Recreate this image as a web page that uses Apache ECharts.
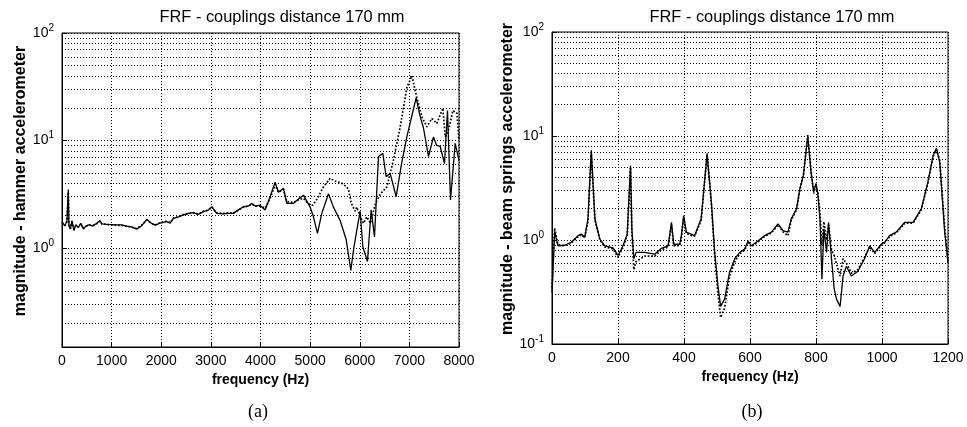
<!DOCTYPE html>
<html>
<head>
<meta charset="utf-8">
<title>FRF - couplings distance 170 mm</title>
<script src="https://cdn.jsdelivr.net/npm/echarts@6.0.0/dist/echarts.min.js"></script>
<style>
  html, body { margin: 0; padding: 0; background: #fff; }
  #chart { width: 967px; height: 427px; }
</style>
</head>
<body>
<div id="chart"></div>
<script>
// (a) hammer accelerometer, 0 - 8000 Hz
const hammerFreqSolid = [0, 60, 100, 127, 140, 170, 200, 240, 280, 330, 380, 430, 480, 550, 620, 700, 766, 800, 900, 1000,
  1100, 1200, 1300, 1400, 1505, 1600, 1707, 1800, 1875, 1976, 2110, 2180, 2245, 2350, 2446, 2550, 2647, 2750, 2849, 2950,
  3017, 3118, 3250, 3350, 3454, 3550, 3655, 3750, 3824, 3900, 3992, 4093, 4194, 4294, 4361, 4462, 4530, 4664, 4760, 4866,
  5000, 5067, 5148, 5235, 5370, 5470, 5605, 5726, 5820, 5880, 5941, 6008, 6062, 6155, 6230, 6297, 6378, 6465, 6532, 6613,
  6734, 6840, 6949, 7050, 7137, 7200, 7285, 7385, 7486, 7550, 7621, 7708, 7768, 7829, 7923, 8000];
const hammerMagSolid = [1.75, 1.6, 1.8, 3.5, 1.6, 1.5, 1.8, 1.45, 1.65, 1.55, 1.7, 1.5, 1.6, 1.65, 1.6, 1.7, 1.8, 1.68, 1.66, 1.65,
  1.64, 1.64, 1.6, 1.57, 1.5, 1.6, 1.85, 1.7, 1.63, 1.7, 1.76, 1.7, 1.89, 1.95, 2.03, 2.1, 2.13, 2.05, 2.18, 2.25,
  2.42, 2.1, 2.08, 2.1, 2.1, 2.25, 2.42, 2.45, 2.6, 2.45, 2.5, 2.26, 3.0, 4.1, 3.3, 3.6, 2.6, 2.6, 2.85, 3.1,
  2.4, 1.95, 1.37, 2.1, 3.2, 2.4, 1.8, 1.2, 0.62, 1.0, 1.47, 2.2, 1.03, 0.75, 2.26, 1.27, 7.1, 7.6, 4.6, 4.95,
  3.0, 6.0, 10.8, 17, 25, 18, 13, 7.1, 10.8, 9, 8.8, 6.1, 19, 2.8, 9.4, 6.5];

const hammerFreqDotted = [0, 60, 100, 127, 140, 170, 200, 240, 280, 330, 380, 430, 480, 550, 620, 700, 766, 800, 900, 1000,
  1100, 1200, 1300, 1400, 1505, 1600, 1707, 1800, 1875, 1976, 2110, 2180, 2245, 2350, 2446, 2550, 2647, 2750, 2849, 2950,
  3017, 3118, 3250, 3350, 3454, 3550, 3655, 3750, 3824, 3900, 3992, 4093, 4194, 4294, 4361, 4462, 4530, 4664, 4760, 4866,
  4950, 5050, 5150, 5268, 5403, 5500, 5638, 5739, 5773, 5830, 5907, 5941, 6000, 6075, 6142, 6216, 6317, 6418, 6546, 6680,
  6815, 6949, 7050, 7151, 7252, 7352, 7453, 7554, 7675, 7722, 7800, 7876, 7957, 8000];
const hammerMagDotted = [1.72, 1.62, 1.75, 3.3, 1.62, 1.52, 1.75, 1.5, 1.62, 1.57, 1.68, 1.52, 1.6, 1.63, 1.62, 1.68, 1.78, 1.68, 1.66, 1.64,
  1.63, 1.62, 1.6, 1.56, 1.52, 1.62, 1.82, 1.7, 1.64, 1.72, 1.78, 1.72, 1.9, 1.95, 2.05, 2.1, 2.12, 2.07, 2.2, 2.25,
  2.4, 2.12, 2.1, 2.12, 2.12, 2.25, 2.4, 2.45, 2.55, 2.45, 2.45, 2.35, 2.9, 3.9, 3.3, 3.5, 2.7, 2.65, 2.8, 2.9,
  2.6, 2.5, 2.9, 3.7, 4.45, 4.2, 4.0, 3.7, 3.5, 2.6, 2.2, 2.4, 2.0, 1.7, 1.95, 1.7, 2.6, 3.2, 3.7, 6.6,
  13.4, 31, 40, 25, 16.6, 13.4, 16, 14.4, 20, 10.8, 13, 19, 18, 10];

// (b) beam springs accelerometer, 0 - 1200 Hz
const beamFreqSolid = [0, 8, 18, 38, 58, 79, 89, 99, 109, 119, 130, 145, 160, 185, 200, 215, 228, 238, 242, 248,
  255, 281, 311, 331, 352, 362, 369, 387, 392, 399, 407, 432, 452, 470, 483, 493, 503, 511, 523, 538,
  554, 569, 584, 594, 604, 624, 644, 665, 685, 700, 715, 725, 741, 751, 762, 775, 785, 793, 800, 806,
  812, 818, 824, 832, 838, 847, 855, 862, 873, 882, 892, 907, 927, 947, 963, 978, 998, 1008, 1023, 1043,
  1069, 1094, 1119, 1139, 1155, 1165, 1175, 1190, 1200];
const beamMagSolid = [0.31, 1.2, 0.88, 0.89, 0.95, 1.1, 1.14, 1.06, 1.6, 7.3, 1.6, 1.02, 0.88, 0.84, 0.71, 0.88, 1.14, 5.2, 1.28, 0.66,
  0.76, 0.76, 0.73, 0.83, 0.88, 1.48, 0.91, 0.91, 1.1, 1.72, 1.19, 1.1, 1.6, 6.8, 2.3, 0.76, 0.36, 0.23, 0.27, 0.49,
  0.66, 0.76, 0.82, 0.98, 0.88, 0.98, 1.1, 1.19, 1.43, 1.23, 1.19, 1.6, 1.99, 3.1, 4.2, 10, 4.5, 2.9, 3.5, 2.7,
  1.6, 0.42, 1.28, 0.76, 1.48, 0.66, 0.34, 0.27, 0.23, 0.45, 0.56, 0.45, 0.5, 0.66, 0.88, 0.76, 0.91, 0.95, 1.1, 1.19,
  1.48, 1.48, 1.99, 3.6, 6.5, 7.6, 5.6, 1.19, 0.6];

const beamFreqDotted = [0, 8, 18, 38, 58, 79, 89, 99, 109, 119, 130, 145, 160, 185, 200, 215, 228, 238, 242, 248,
  255, 281, 311, 331, 352, 362, 369, 387, 392, 399, 407, 432, 452, 470, 483, 493, 503, 511, 523, 538,
  554, 569, 584, 594, 604, 624, 644, 665, 685, 700, 715, 725, 741, 751, 762, 775, 785, 793, 800, 806,
  812, 818, 824, 832, 838, 847, 855, 867, 873, 882, 892, 907, 927, 947, 963, 978, 998, 1008, 1023, 1043,
  1069, 1094, 1119, 1139, 1155, 1165, 1175, 1190, 1200];
const beamMagDotted = [0.35, 1.3, 0.9, 0.88, 0.93, 1.08, 1.12, 1.05, 1.5, 7.0, 1.55, 1.0, 0.86, 0.82, 0.68, 0.85, 1.1, 5.0, 1.2, 0.52,
  0.62, 0.7, 0.7, 0.8, 0.86, 1.4, 0.88, 0.88, 1.05, 1.65, 1.15, 1.08, 1.55, 6.6, 2.2, 0.7, 0.3, 0.18, 0.22, 0.45,
  0.62, 0.74, 0.8, 0.95, 0.86, 0.96, 1.08, 1.17, 1.4, 1.2, 1.1, 1.55, 1.95, 3.0, 4.3, 10.2, 4.6, 2.8, 3.4, 2.8,
  1.8, 0.9, 1.5, 1.0, 1.4, 0.8, 0.71, 0.52, 0.45, 0.66, 0.6, 0.48, 0.52, 0.68, 0.86, 0.74, 0.9, 0.94, 1.08, 1.17,
  1.45, 1.45, 1.95, 3.5, 6.4, 7.4, 5.8, 1.3, 0.65];

// minor log grid lines (2..9 of every decade)
const minorGrid = [0.2, 0.3, 0.4, 0.5, 0.6, 0.7, 0.8, 0.9, 2, 3, 4, 5, 6, 7, 8, 9, 20, 30, 40, 50, 60, 70, 80, 90];

const titleText = 'FRF - couplings distance 170 mm';
const xName = 'frequency (Hz)';
const yNameA = 'magnitude - hammer accelerometer';
const yNameB = 'magnitude - beam springs accelerometer';

const FONT = '"Liberation Sans", Arial, sans-serif';
const SERIF = '"Liberation Serif", "DejaVu Serif", serif';
const dots = [1, 2];

function pairs(xs, ys) {
  return xs.map((x, i) => [x, ys[i]]);
}

function decadeLabel(v) {
  const e = Math.round(Math.log10(v));
  if (Math.abs(Math.log10(v) - e) > 0.01) return '';
  return '{b|10}{s|' + e + '}';
}

function xAxisFor(gridIndex, max, interval) {
  return {
    type: 'value',
    gridIndex,
    min: 0,
    max,
    interval,
    name: xName,
    nameLocation: 'middle',
    nameGap: 22,
    nameTextStyle: { color: '#000', fontSize: 14, fontWeight: 'bold', fontFamily: FONT },
    axisLine: { show: true, lineStyle: { color: '#000', width: 1 } },
    axisTick: { show: true, inside: true, length: 5, lineStyle: { color: '#000' } },
    axisLabel: { color: '#000', fontSize: 14, fontFamily: FONT, margin: 7, formatter: v => String(v) },
    splitLine: { show: true, lineStyle: { color: '#000', type: dots, width: 1 } },
  };
}

function yAxisFor(gridIndex, min, name) {
  return {
    type: 'log',
    logBase: 10,
    gridIndex,
    min,
    max: 100,
    name,
    nameLocation: 'middle',
    nameRotate: 90,
    nameGap: 32,
    nameTextStyle: { color: '#000', fontSize: 16, fontWeight: 'bold', fontFamily: FONT, padding: [0, 0, 0, 18] },
    axisLine: { show: true, lineStyle: { color: '#000', width: 1 } },
    axisTick: { show: true, inside: true, length: 5, lineStyle: { color: '#000' } },
    axisLabel: {
      color: '#000',
      margin: 8,
      formatter: decadeLabel,
      rich: {
        b: { fontSize: 14, fontFamily: FONT, color: '#000' },
        s: { fontSize: 10, fontFamily: FONT, color: '#000', padding: [0, 0, 10, 0] },
      },
    },
    splitLine: { show: true, lineStyle: { color: '#000', type: dots, width: 1 } },
  };
}

function minorLines() {
  return {
    silent: true,
    symbol: ['none', 'none'],
    label: { show: false },
    lineStyle: { color: '#000', type: dots, width: 1 },
    emphasis: { disabled: true },
    data: minorGrid.map(v => ({ yAxis: v })),
  };
}

function lineSeries(idx, data, dotted, withGrid) {
  const s = {
    type: 'line',
    xAxisIndex: idx,
    yAxisIndex: idx,
    data,
    symbol: 'none',
    silent: true,
    lineStyle: dotted
      ? { color: '#000', width: 1.7, type: [1.7, 1.8] }
      : { color: '#000', width: 1.3 },
  };
  if (withGrid) s.markLine = minorLines();
  return s;
}

const chart = echarts.init(document.getElementById('chart'), null, { renderer: 'canvas' });

const option = {
  backgroundColor: '#fff',
  animation: false,
  grid: [
    { left: 62, top: 33, width: 397, height: 314, show: true, borderColor: '#000', borderWidth: 1, backgroundColor: 'transparent', outerBoundsMode: 'none' },
    { left: 552, top: 32, width: 396, height: 312, show: true, borderColor: '#000', borderWidth: 1, backgroundColor: 'transparent', outerBoundsMode: 'none' },
  ],
  xAxis: [xAxisFor(0, 8000, 1000), xAxisFor(1, 1200, 200)],
  yAxis: [yAxisFor(0, 0.12, yNameA), yAxisFor(1, 0.1, yNameB)],
  series: [
    lineSeries(0, pairs(hammerFreqDotted, hammerMagDotted), true, true),
    lineSeries(0, pairs(hammerFreqSolid, hammerMagSolid), false, false),
    lineSeries(1, pairs(beamFreqDotted, beamMagDotted), true, true),
    lineSeries(1, pairs(beamFreqSolid, beamMagSolid), false, false),
  ],
  graphic: [
    { type: 'text', x: 282, y: 17, style: { text: titleText, fontSize: 16.4, fontFamily: FONT, fill: '#000', align: 'center', verticalAlign: 'middle' } },
    { type: 'text', x: 772, y: 17, style: { text: titleText, fontSize: 16.4, fontFamily: FONT, fill: '#000', align: 'center', verticalAlign: 'middle' } },
    { type: 'text', x: 258, y: 412, style: { text: '(a)', fontSize: 18, fontFamily: SERIF, fill: '#000', align: 'center', verticalAlign: 'middle' } },
    { type: 'text', x: 752, y: 412, style: { text: '(b)', fontSize: 18, fontFamily: SERIF, fill: '#000', align: 'center', verticalAlign: 'middle' } },
  ],
};

chart.setOption(option);
</script>
</body>
</html>
